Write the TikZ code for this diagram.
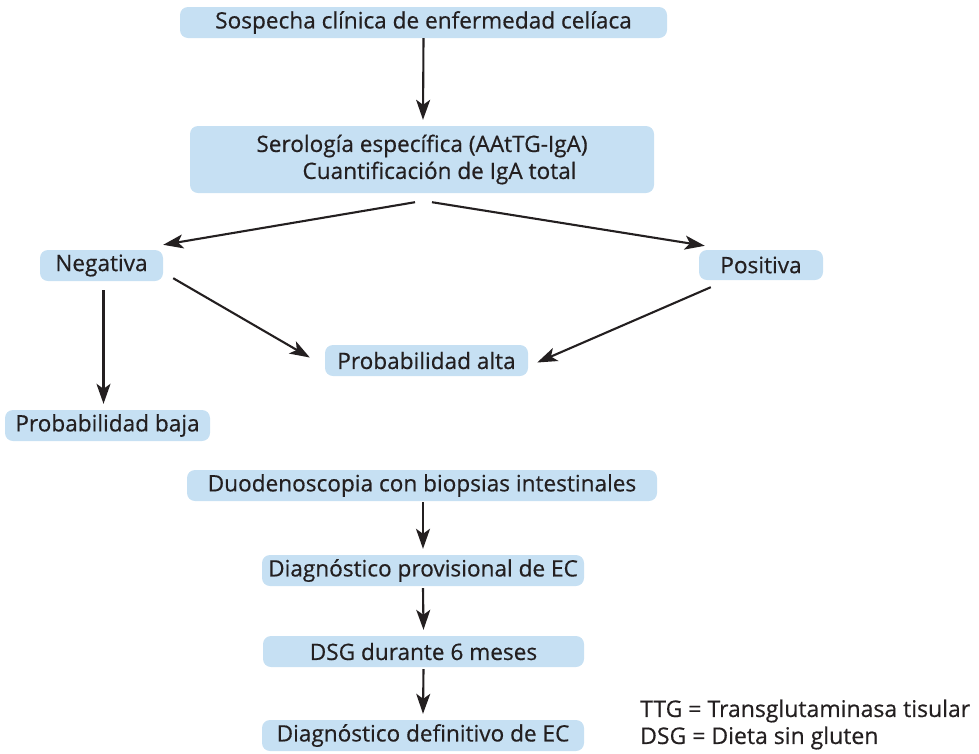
\documentclass[tikz,border=0pt]{standalone}
\usepackage{fontspec}
\setmainfont{Open Sans}[FakeBold=0.5]
\usetikzlibrary{arrows.meta,calc}
\definecolor{boxblue}{RGB}{198,224,243}
\definecolor{ink}{RGB}{35,31,32}
\begin{document}
\begin{tikzpicture}[x=1pt,y=-1pt,
  box/.style={fill=boxblue,rounded corners=8pt,inner sep=0pt,text=ink,
    font=\fontsize{22.6}{27}\selectfont},
  arr/.style={draw=ink,line width=2.1pt,-{Stealth[length=20pt,width=14pt,inset=5pt]}},
  legend/.style={text=ink,font=\fontsize{23}{27}\selectfont,anchor=west,inner sep=0pt}]
\useasboundingbox (0,0) rectangle (979,753);
\node[box,minimum width=487pt,minimum height=31pt] (top) at (423.5,22.5) {Sospecha clínica de enfermedad celíaca};
\node[box,minimum width=464pt,minimum height=67pt,align=center] (ser) at (422,159.5)
  {Serología específica (AAtTG-IgA)\\\hspace*{35pt}Cuantificación de IgA total};
\node[box,minimum width=123pt,minimum height=31pt] (neg) at (101.5,265.5) {Negativa};
\node[box,minimum width=124pt,minimum height=30pt] (pos) at (761,265) {Positiva};
\node[box,minimum width=203pt,minimum height=31pt] (alta) at (426.5,360.5) {Probabilidad alta};
\node[box,minimum width=205pt,minimum height=31pt] (baja) at (107.5,425.5) {Probabilidad baja};
\node[box,minimum width=470pt,minimum height=31pt] (duo) at (422,485.5) {Duodenoscopia con biopsias intestinales};
\node[box,minimum width=322pt,minimum height=31pt] (prov) at (423,570.5) {Diagnóstico provisional de EC};
\node[box,minimum width=321pt,minimum height=31pt] (dsg) at (423.5,651.5) {DSG durante 6 meses};
\node[box,minimum width=322pt,minimum height=31pt] (def) at (423,735.5) {Diagnóstico definitivo de EC};
\node[legend] (l1) at (640,711) {TTG = Transglutaminasa tisular};
\node[legend] (l2) at (640,738) {DSG = Dieta sin gluten};
% connectors
\coordinate (sl) at ($(ser.south)+(-7,9)$);
\coordinate (sr) at ($(ser.south)+(10,9)$);
\coordinate (negt) at ($(neg.north east)+(0,-5)$);
\coordinate (post) at ($(pos.north west)+(6,-4)$);
\coordinate (negb) at ($(neg.south)+(2,9)$);
\coordinate (bajat) at ($(baja.north)+(-4,-6)$);
\coordinate (negr) at ($(neg.south east)+(10,-3)$);
\coordinate (altal) at ($(alta.west)+(-15,-3)$);
\coordinate (posb) at ($(pos.south west)+(12,7)$);
\coordinate (altar) at ($(alta.east)+(9,2)$);
\draw[arr] (top.south) -- ($(ser.north)+(1,-6)$);
\draw[arr] (sl) -- (negt);
\draw[arr] (sr) -- (post);
\draw[arr] (negb) -- (bajat);
\draw[arr] (negr) -- (altal);
\draw[arr] (posb) -- (altar);
\draw[arr] ($(duo.south)+(1,1)$) -- ($(prov.north)+(0,-6)$);
\draw[arr] ($(prov.south)+(0,2)$) -- ($(dsg.north)+(0,-6)$);
\draw[arr] ($(dsg.south)+(0,2)$) -- ($(def.north)+(0,-6)$);
\end{tikzpicture}
\end{document}
